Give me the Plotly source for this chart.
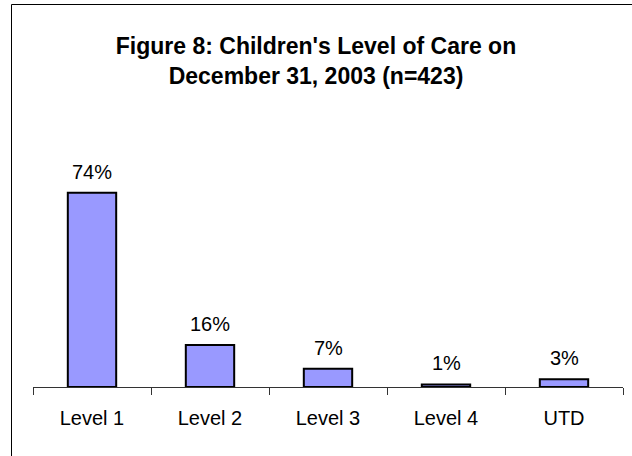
import plotly.graph_objs as go

categories = ['Level 1', 'Level 2', 'Level 3', 'Level 4', 'UTD']
percents = [74, 16, 7, 1, 3]
title_text = "Figure 8: Children's Level of Care on<br>December 31, 2003 (n=423)"

W, H = 632, 456
left, right, top, bottom = 33, 9, 177, 69
ymax = 80

bars = go.Bar(
    x=categories,
    y=percents,
    marker=dict(color='#9999FF', line=dict(color='black', width=2)),
    width=0.41,
    hoverinfo='skip',
)

labels = [dict(x=c, y=v, text='%d%%' % v, showarrow=False,
               yanchor='bottom', yshift=8,
               font=dict(family='Arial, Liberation Sans', size=20, color='black'))
          for c, v in zip(categories, percents)]

# frame around the whole chart (runs off the right and bottom edges)
plot_w = W - left - right
plot_h = H - top - bottom
frame = dict(type='rect', xref='paper', yref='paper',
             x0=(11.5 - left) / plot_w, x1=(W + 10 - left) / plot_w,
             y0=-(bottom + 10) / plot_h, y1=(H - bottom - 4.5) / plot_h,
             line=dict(color='black', width=1), fillcolor='rgba(0,0,0,0)')

layout = go.Layout(
    width=W, height=H,
    margin=dict(l=left, r=right, t=top, b=bottom, autoexpand=False),
    paper_bgcolor='white', plot_bgcolor='white',
    font=dict(family='Arial, Liberation Sans', size=20, color='black'),
    title=dict(text='<b>' + title_text + '</b>', x=0.5, xanchor='center',
               y=1 - 54 / H, yanchor='middle', yref='container',
               font=dict(size=23)),
    xaxis=dict(showline=True, linecolor='#333333', linewidth=1,
               ticks='outside', tickson='boundaries', ticklen=7,
               tickcolor='#333333', showgrid=False, ticklabelstandoff=13),
    yaxis=dict(range=[0, ymax], visible=False, showgrid=False),
    annotations=labels,
    shapes=[frame],
    showlegend=False,
    bargap=0.59,
)

fig = go.Figure(data=[bars], layout=layout)
fig.write_html('out.html', config={'displayModeBar': False},
               post_script="document.body.style.margin='0';")
